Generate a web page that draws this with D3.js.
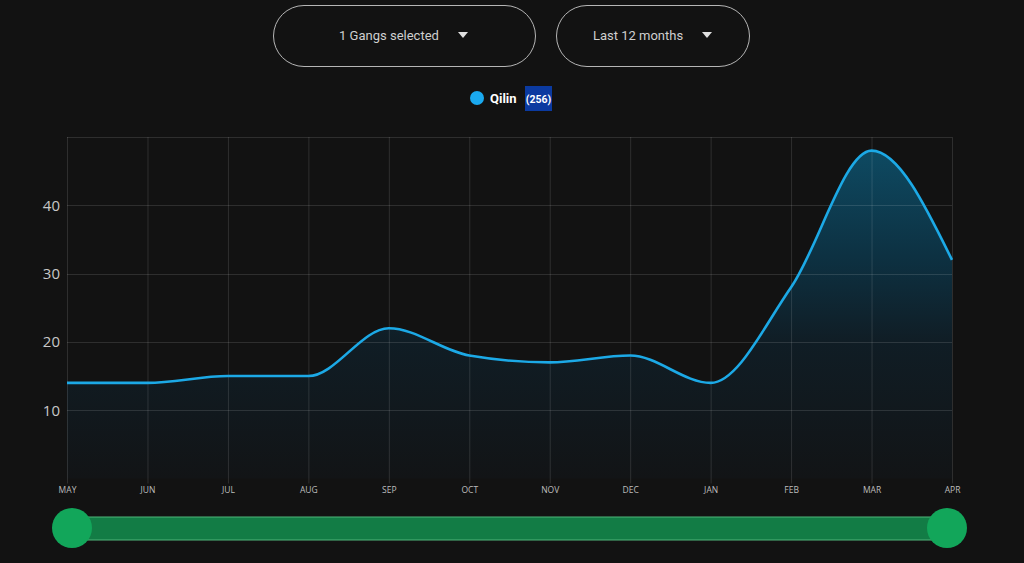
<!DOCTYPE html>
<html>
<head>
<meta charset="utf-8">
<script src="https://cdnjs.cloudflare.com/ajax/libs/d3/7.8.5/d3.min.js"></script>
<style>
  html, body { margin: 0; padding: 0; background: #121212; overflow: hidden; }
  svg { display: block; font-family: Roboto, "Open Sans", sans-serif; }
</style>
</head>
<body>
<div id="chart"></div>
<script>
var months = ["MAY","JUN","JUL","AUG","SEP","OCT","NOV","DEC","JAN","FEB","MAR","APR"];
var counts = [14, 14, 15, 15, 22, 18, 17, 18, 14, 28, 48, 32];
var yTicks = [10, 20, 30, 40];
var gangName = "Qilin";
var gangTotal = 256;

var W = 1024, H = 563;
var svg = d3.select("#chart").append("svg").attr("width", W).attr("height", H);

// top dropdown buttons
var buttons = [
    {label: "1 Gangs selected", x: 273, w: 262, tx: 389, ax: 463},
    {label: "Last 12 months", x: 556, w: 193, tx: 638, ax: 707}
];
buttons.forEach(function(b){
    svg.append("rect")
        .attr("x", b.x + 0.5).attr("y", 5.5)
        .attr("width", b.w).attr("height", 61)
        .attr("rx", 30.5)
        .attr("fill", "#121212")
        .attr("stroke", "#b5b5b5").attr("stroke-width", 1);
    svg.append("text")
        .attr("x", b.tx).attr("y", 40)
        .attr("text-anchor", "middle")
        .attr("fill", "#cfcfcf")
        .style("font-size", "13px")
        .text(b.label);
    svg.append("path")
        .attr("d", "M" + (b.ax - 5) + ",32 L" + (b.ax + 5) + ",32 L" + b.ax + ",38 Z")
        .attr("fill", "#e0e0e0");
});

// legend
svg.append("circle").attr("cx", 477).attr("cy", 98).attr("r", 7).attr("fill", "#1aa9ef");
svg.append("text").attr("x", 490).attr("y", 103)
    .attr("fill", "#ffffff").style("font-size", "13px").style("font-weight", "bold")
    .text(gangName);
svg.append("rect").attr("x", 525).attr("y", 86).attr("width", 27).attr("height", 25).attr("fill", "#0b3aa0");
svg.append("text").attr("x", 538.5).attr("y", 102.5).attr("text-anchor", "middle")
    .attr("fill", "#ffffff").style("font-size", "10.5px").style("font-weight", "bold")
    .text("(" + gangTotal + ")");

// chart
var plotLeft = 67, plotRight = 952, plotTop = 137, plotBottom = 478.5;
var x = d3.scalePoint().domain(months).range([plotLeft, plotRight]);
var y = d3.scaleLinear().domain([0, 50]).range([plotBottom, plotTop]);

var defs = svg.append("defs");
var grad = defs.append("linearGradient").attr("id", "areaGrad")
    .attr("gradientUnits", "userSpaceOnUse")
    .attr("x1", 0).attr("y1", plotTop).attr("x2", 0).attr("y2", plotBottom);
grad.append("stop").attr("offset", "0%").attr("stop-color", "#0e4d66");
grad.append("stop").attr("offset", "35%").attr("stop-color", "#0d3142");
grad.append("stop").attr("offset", "60%").attr("stop-color", "#101d25");
grad.append("stop").attr("offset", "100%").attr("stop-color", "#121416");

var rows = months.map(function(m, i){ return {m: m, v: counts[i]}; });

var area = d3.area()
    .x(function(d){ return x(d.m); })
    .y0(plotBottom)
    .y1(function(d){ return y(d.v); })
    .curve(d3.curveMonotoneX);

svg.append("path").datum(rows)
    .attr("d", area)
    .attr("fill", "url(#areaGrad)");

// grid
var grid = svg.append("g");
grid.selectAll("line.v").data(months).enter().append("line")
    .attr("x1", function(d){ return x(d) + 0.5; })
    .attr("x2", function(d){ return x(d) + 0.5; })
    .attr("y1", plotTop).attr("y2", plotBottom + 5)
    .attr("stroke", "#ffffff").attr("stroke-opacity", 0.12);
grid.selectAll("line.h").data(yTicks.concat([50])).enter().append("line")
    .attr("x1", plotLeft).attr("x2", plotRight)
    .attr("y1", function(d){ return Math.round(y(d)) + 0.5; })
    .attr("y2", function(d){ return Math.round(y(d)) + 0.5; })
    .attr("stroke", "#ffffff").attr("stroke-opacity", 0.12);

var line = d3.line()
    .x(function(d){ return x(d.m); })
    .y(function(d){ return y(d.v); })
    .curve(d3.curveMonotoneX);

svg.append("path").datum(rows)
    .attr("d", line)
    .attr("fill", "none")
    .attr("stroke", "#1ca9e6")
    .attr("stroke-width", 2.6);

// axes
var yAxis = svg.append("g")
    .attr("transform", "translate(" + plotLeft + ",0)")
    .call(d3.axisLeft(y).tickValues(yTicks).tickSize(0).tickPadding(7));
yAxis.select(".domain").remove();
yAxis.selectAll("text").attr("fill", "#c8c8c8").style("font-size", "15px")
    .style("font-family", "'Open Sans', sans-serif");

var xAxis = svg.append("g")
    .attr("transform", "translate(0," + plotBottom + ")")
    .call(d3.axisBottom(x).tickSize(0).tickPadding(8));
xAxis.select(".domain").remove();
xAxis.selectAll("text").attr("fill", "#bdbdbd").style("font-size", "8.5px")
    .style("font-family", "'Open Sans', sans-serif");

// range slider
var sx = d3.scaleLinear().domain([0, months.length - 1]).range([72, 947]);
svg.append("rect")
    .attr("x", sx(0)).attr("y", 517)
    .attr("width", sx(months.length - 1) - sx(0)).attr("height", 23)
    .attr("fill", "#127c45")
    .attr("stroke", "#4fb57a").attr("stroke-width", 1);
svg.selectAll("circle.handle").data([0, months.length - 1]).enter().append("circle")
    .attr("class", "handle")
    .attr("cx", function(d){ return sx(d); })
    .attr("cy", 528)
    .attr("r", 20)
    .attr("fill", "#12a65a");
</script>
</body>
</html>
